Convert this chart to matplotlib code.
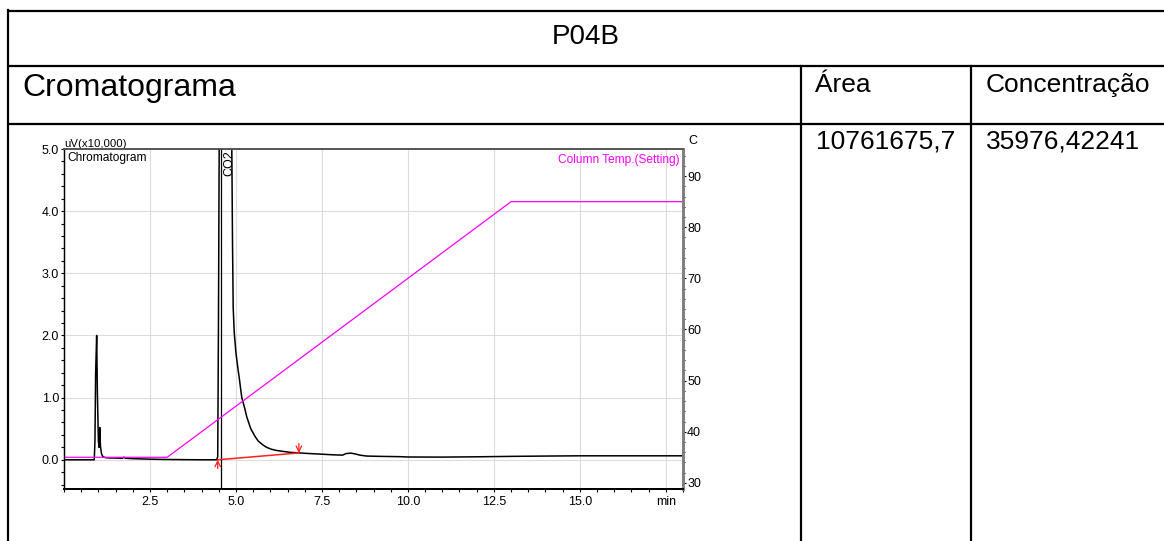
import matplotlib
matplotlib.use('Agg')
import matplotlib.pyplot as plt
from matplotlib.ticker import MultipleLocator, FixedLocator

# chromatogram trace: time (min), signal (uV x10,000)
time_min = [0.0, 0.88, 0.90, 0.92, 0.95, 0.97, 1.00, 1.02, 1.04, 1.06, 1.09, 1.13, 1.20, 1.30,
            1.50, 1.70, 1.74, 1.78, 2.00, 2.50, 3.00, 3.50, 4.00, 4.44, 4.47, 4.49, 4.52,
            4.60, 4.75, 4.88, 4.90, 4.92, 4.95, 5.00, 5.05, 5.10, 5.17, 5.25, 5.31, 5.43,
            5.55, 5.65, 5.77, 5.89, 6.03, 6.18, 6.37, 6.57, 6.85, 7.15, 7.50, 7.82, 8.10,
            8.20, 8.35, 8.50, 8.60, 8.80, 9.20, 9.77, 10.0, 11.0, 12.0, 13.0, 14.0, 15.0,
            16.0, 17.0, 18.0]
signal = [0.0, 0.0, 0.30, 1.40, 2.00, 1.10, 0.30, 0.20, 0.52, 0.22, 0.10, 0.05, 0.035, 0.03,
          0.028, 0.025, 0.042, 0.025, 0.018, 0.010, 0.005, 0.002, 0.0, 0.0, 0.05, 2.0, 6.0,
          8.5, 7.5, 5.0, 3.5, 2.45, 2.05, 1.72, 1.50, 1.30, 1.00, 0.84, 0.70, 0.50,
          0.38, 0.30, 0.245, 0.20, 0.17, 0.15, 0.135, 0.12, 0.11, 0.10, 0.09, 0.08, 0.075,
          0.10, 0.107, 0.09, 0.075, 0.06, 0.055, 0.05, 0.045, 0.043, 0.048, 0.055, 0.06, 0.064,
          0.064, 0.064, 0.064]

# column temperature program (setting)
temp_time = [0.0, 3.0, 13.0, 18.0]
temp_c = [35, 35, 85, 85]

peak_name = 'CO2'
peak_rt = 4.56
baseline_t = [4.47, 6.83]
baseline_v = [0.0, 0.11]

sample = 'P04B'
headers = ['Cromatograma', 'Área', 'Concentração']
area = '10761675,7'
conc = '35976,42241'

W, H = 1164, 541
plt.rcParams['font.family'] = ['Liberation Sans', 'DejaVu Sans']

fig = plt.figure(figsize=(W / 100, H / 100), dpi=100)

# table grid, drawn in pixel coordinates
bg = fig.add_axes([0, 0, 1, 1])
bg.set_xlim(0, W)
bg.set_ylim(H, 0)
bg.axis('off')
lw = 1.6
for y in [10.5, 66, 124]:
    bg.plot([8, W + 5], [y, y], color='black', lw=lw, solid_capstyle='butt')
bg.plot([8, 8], [10, H], color='black', lw=lw)
for x in [800.5, 971]:
    bg.plot([x, x], [66, H], color='black', lw=lw)

fs = 19
bg.text(586, 37, sample, ha='center', va='center', fontsize=20)
bg.text(22, 88, headers[0], ha='left', va='center', fontsize=23)
bg.text(815, 85, headers[1], ha='left', va='center', fontsize=fs)
bg.text(986, 85, headers[2], ha='left', va='center', fontsize=fs)
bg.text(816, 142, area, ha='left', va='center', fontsize=fs)
bg.text(986, 142, conc, ha='left', va='center', fontsize=fs)

# chromatogram panel
left, right, top, bottom = 64, 683, 149, 489
ax = fig.add_axes([left / W, 1 - bottom / H, (right - left) / W, (bottom - top) / H])
ax.set_xlim(0, 18)
ax.set_ylim(-0.47, 5.0)
ax.set_zorder(2)
ax.patch.set_visible(False)

ax2 = ax.twinx()
ax2.set_ylim(28.8, 95.3)

tfs = 9
ax.xaxis.set_major_locator(FixedLocator([2.5, 5.0, 7.5, 10.0, 12.5, 15.0, 17.5]))
ax.set_xticklabels(['2.5', '5.0', '7.5', '10.0', '12.5', '15.0', 'min'])
ax.xaxis.set_minor_locator(MultipleLocator(0.5))
ax.yaxis.set_major_locator(FixedLocator([0, 1, 2, 3, 4, 5]))
ax.set_yticklabels(['0.0', '1.0', '2.0', '3.0', '4.0', '5.0'])
ax.yaxis.set_minor_locator(MultipleLocator(0.2))
ax.tick_params(axis='both', which='major', length=2, width=0.8, labelsize=tfs, pad=1.5)
ax.tick_params(axis='both', which='minor', length=2, width=0.8)
ax.tick_params(axis='x', which='major', pad=3)
ax.grid(True, which='major', color='#dcdcdc', lw=0.8)
ax2.grid(False)

ax2.yaxis.set_major_locator(FixedLocator([30, 40, 50, 60, 70, 80, 90]))
ax2.yaxis.set_minor_locator(MultipleLocator(2))
ax2.tick_params(axis='y', which='major', length=2, width=0.8, labelsize=tfs, pad=1)
ax2.tick_params(axis='y', which='minor', length=1.5, width=0.8)

for a in (ax, ax2):
    a.spines['left'].set_linewidth(0.9)
    a.spines['left'].set_color('black')
    a.spines['bottom'].set_linewidth(1.3)
    a.spines['bottom'].set_color('black')
    a.spines['top'].set_linewidth(1.2)
    a.spines['top'].set_color('#555555')
    a.spines['right'].set_linewidth(2.0)
    a.spines['right'].set_color('#808080')

ax2.plot(temp_time, temp_c, color='#ff00ff', lw=0.9, zorder=1)

ax.plot(time_min, signal, color='black', lw=1.1, zorder=3)
ax.axvline(peak_rt, color='black', lw=0.9, zorder=3)
ax.plot(baseline_t, baseline_v, color='#ff2020', lw=1.1, zorder=4)
ax.annotate('', xy=(baseline_t[0], baseline_v[0]), xytext=(baseline_t[0], baseline_v[0] - 0.14),
            arrowprops=dict(arrowstyle='->', color='#ff2020', lw=0.9, shrinkA=0, shrinkB=0))
ax.annotate('', xy=(baseline_t[1], baseline_v[1]), xytext=(baseline_t[1], baseline_v[1] + 0.15),
            arrowprops=dict(arrowstyle='->', color='#ff2020', lw=0.9, shrinkA=0, shrinkB=0))

ax.text(peak_rt + 0.08, 4.98, peak_name, rotation=90, ha='left', va='top', fontsize=tfs)
ax.text(0.006, 0.99, 'Chromatogram', transform=ax.transAxes, ha='left', va='top',
        fontsize=8.6)
ax.text(0.995, 0.985, 'Column Temp.(Setting)', transform=ax.transAxes, ha='right', va='top',
        fontsize=8.6, color='#ff00ff')
ax.text(0.0, 1.0, 'uV(x10,000)', transform=ax.transAxes, ha='left', va='bottom',
        fontsize=8.2)
ax.text(1.008, 1.005, 'C', transform=ax.transAxes, ha='left', va='bottom', fontsize=tfs)

fig.savefig('out.png', dpi=100)
